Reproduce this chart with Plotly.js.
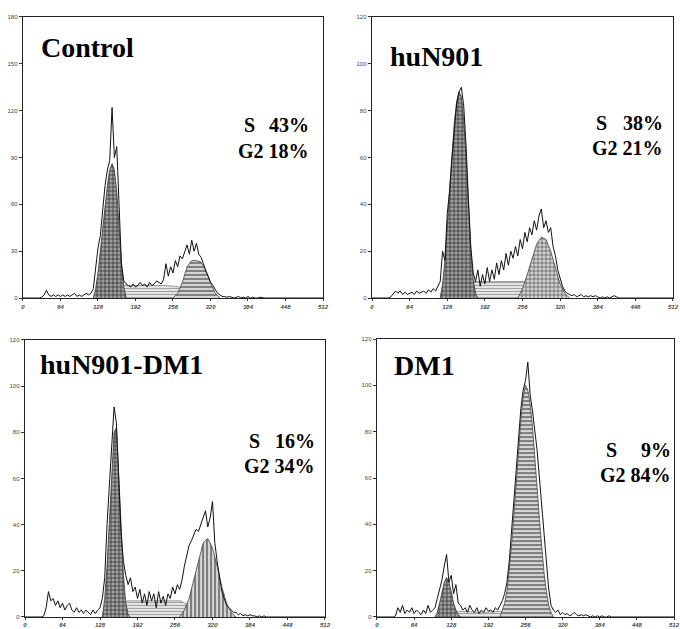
<!DOCTYPE html>
<html>
<head>
<meta charset="utf-8">
<script src="https://cdn.plot.ly/plotly-3.0.1.min.js"></script>
<style>html,body{margin:0;padding:0;background:#fff;}#chart{width:680px;height:629px;}</style>
</head>
<body>
<div id="chart"></div>
<script>
// ---- shared channel axis (DNA content, step 4) ----
const channels = [0,4,8,12,16,20,24,28,32,36,40,44,48,52,56,60,64,68,72,76,80,84,88,92,96,100,104,108,112,116,120,124,128,132,136,140,144,148,152,156,160,164,168,172,176,180,184,188,192,196,200,204,208,212,216,220,224,228,232,236,240,244,248,252,256,260,264,268,272,276,280,284,288,292,296,300,304,308,312,316,320,324,328,332,336,340,344,348,352,356,360,364,368,372,376,380,384,388,392,396,400,404,408,412,416,420,424,428,432,436,440,444,448,452,456,460,464,468,472,476,480,484,488,492,496,500,504,508,512];
const xTicks = [0,64,128,192,256,320,384,448,512];

// ---- panel names and percentages ----
const panelNames = ["Control","huN901","huN901-DM1","DM1"];
const sPhase = ["43%","38%","16%","9%"];
const g2Phase = ["18%","21%","34%","84%"];
const yMax = [180,120,120,120];
const yStep = [30,20,20,20];

// ---- histogram counts ----
const controlHist = [0,0,0,0,0,0,0,0, 0.5,2,5,2,1,2,1,2, 1,2,1,2,1,2,3,1, 2,1,2,3,2,3,6,18,
  32,40,55,72,82,88,122,90, 97,62,22,11,9,8,7,9, 7,8,10,8,9,7,10,8, 9,11,10,9,12,22,14,20,
  16,24,20,27,25,30,34,28, 37,30,35,28,26,22,17,14, 10,8,5,3,2,1,1,0.5, 1,0.5,0,0.5,1,0,0.5,0,
  1,0,0.5,0,0,0.5,0,0, 0,0,0,0,0,0,0,0,0,0,0,0,0,0,0,0,0,0,0,0,0,0,0,0,0];
const huN901Hist = [0,0,0,0,0,0,0,0, 0.5,2,3,2,3,1.5,2.5,1.5, 2,2.5,1.5,3,2,2.5,3,2, 3.5,2.5,4,3,5,7,20,16,
  36,46,60,72,83,88,90,82, 65,42,22,11,7,12,5,10, 6,13,7,12,8,15,10,16, 12,19,14,20,17,22,18,25,
  21,28,24,30,27,33,29,35, 38,30,33,28,30,22,18,12, 8,5,3,2,1.5,1,1.5,0.5, 1,1.5,0.5,1,0.5,1,0.5,1,
  0.5,0,0.5,0,0.5,0,0.5,1, 0.5,0,0,0,0,0,0,0,0,0,0,0,0,0,0,0,0,0,0,0,0,0,0,0,0];
const huN901DM1Hist = [0,0,0,0,0,0,0,0, 0.5,4,11,7,8,5,7,4, 6,3,5,6,3,2,4,2, 3,1.5,3,2,1,3,1.5,3,
  4,8,17,40,58,75,91,84, 58,36,24,18,14,17,11,13, 8,12,6,10,5,11,7,10, 4,11,6,9,5,10,8,13,
  10,14,12,16,22,26,31,33, 36,38,37,40,42,46,39,43, 50,32,24,17,11,8,5,4, 3,2,2,1,1.5,0.5,1,0.5,
  1,0.5,0.5,0,0.5,0,0.5,0, 0,0,0,0,0,0,0,0,0,0,0,0,0,0,0,0,0,0,0,0,0,0,0,0,0];
const dm1Hist = [0,0,0,0,0,0,0,0, 0.5,4,2,5,1.5,3,2,4, 1.5,3,2,1,3,1.5,5,2, 3,4,8,12,16,22,27,15,
  18,10,14,6,5,3,4,2, 5,3,2,4,1.5,3,2,4, 2.5,3,2,4,3,5,7,10, 15,24,38,50,64,78,90,98,
  102,110,96,89,81,72,60,48, 34,22,12,5,3,2,3,1, 2,1,1.5,0.5,1,2,1,0.5, 1,0.5,1,0.5,0,0.5,0,0.5,
  0,0.5,0,0,0.5,0,0,0, 0,0,0,0,0,0,0,0,0,0,0,0,0,0,0,0,0,0,0,0,0,0,0,0,0];
const histograms = [controlHist, huN901Hist, huN901DM1Hist, dm1Hist];

// ---- model components (G1, S, G2) ----
const ctrlG1x = [120,124,128,132,136,140,144,148,152,156,160,164,168,172,176];
const ctrlG1y = [0,6,16,30,45,60,72,82,86,82,68,45,22,7,0];
const ctrlSx = [124,132,144,160,200,240,260,280,300,320,336];
const ctrlSy = [0,3,6,8,8,8,7.5,6,4,2,0];
const ctrlG2x = [256,264,272,280,288,296,304,312,320,328,336];
const ctrlG2y = [0,3,10,20,24,24,23,18,10,3,0];

const hG1x = [116,120,124,128,132,136,140,144,148,152,156,160,164,168,172,176,180];
const hG1y = [0,6,16,30,46,62,75,84,88,86,76,60,40,20,8,2,0];
const hSx = [124,136,150,170,200,240,270,300,320,336];
const hSy = [0,3,6,7,7,7,7,5,2,0];
const hG2x = [248,256,264,272,280,288,296,304,312,320,328,336];
const hG2y = [0,4,10,17,23,26,25,20,13,6,2,0];

const dG1x = [132,136,140,144,148,152,156,160,164,168,172,176,180];
const dG1y = [0,8,22,42,64,80,82,62,38,18,6,1,0];
const dSx = [136,150,165,175,220,265,280,300,320,344];
const dSy = [0,3,6,7,7,7,5,3,1.5,0];
const dG2x = [264,272,280,288,296,304,312,320,328,336,344,352,360];
const dG2y = [0,3,8,16,25,32,34,30,22,13,6,2,0];

const mG1x = [100,104,108,112,116,120,124,128,132,136,140,144];
const mG1y = [0,2,6,11,15,17,15,11,6,3,1,0];
const mSx = [104,124,140,180,220,250,270,290,304];
const mSy = [0,2,2.5,2,2.5,3,3,2,0];
const mG2x = [212,216,220,224,228,232,236,240,244,248,252,256,260,264,268,272,276,280,284,288,292,296,300,304];
const mG2y = [0,3,6,11,20,31,44,58,72,85,95,100,98,92,82,70,56,42,29,19,11,5,2,0];

const models = [
  {g1:[ctrlG1x,ctrlG1y], s:[ctrlSx,ctrlSy], g2:[ctrlG2x,ctrlG2y], g2shape:'-'},
  {g1:[hG1x,hG1y], s:[hSx,hSy], g2:[hG2x,hG2y], g2shape:'+'},
  {g1:[dG1x,dG1y], s:[dSx,dSy], g2:[dG2x,dG2y], g2shape:'|'},
  {g1:[mG1x,mG1y], s:[mSx,mSy], g2:[mG2x,mG2y], g2shape:'-'}
];

// ---- layout geometry (paper fractions) ----
const xDomains = [[0.0338,0.475],[0.5471,0.9897],[0.0368,0.4779],[0.5544,0.9912]];
const yDomains = [[0.5262,0.9730],[0.5262,0.9730],[0.0191,0.4595],[0.0191,0.4610]];
const titlePos = [[0.053,0.893],[0.053,0.861],[0.043,0.913],[0.05,0.903]];
const statPos = [ // [S label x, right edge x, S line y, G2 line y]
  [0.73,0.959,0.616,0.523],
  [0.737,0.975,0.623,0.534],
  [0.74,0.972,0.635,0.545],
  [0.764,0.996,0.601,0.511]
];

const traces = [];
const layout = {
  width:680, height:629,
  margin:{l:0,r:0,t:0,b:0},
  paper_bgcolor:'#fff', plot_bgcolor:'#fff',
  showlegend:false, hovermode:false,
  annotations:[]
};

const serif = 'Liberation Serif, Times New Roman, serif';

for (let i=0;i<4;i++){
  const ax = i===0 ? '' : String(i+1);
  const xa = 'x'+ax, ya = 'y'+ax;
  const m = models[i];
  // S phase
  traces.push({x:m.s[0], y:m.s[1], xaxis:xa, yaxis:ya, type:'scatter', mode:'lines',
    line:{color:'#777', width:0.7}, fill:'tozeroy', fillcolor:'#e0e0e0',
    fillpattern:{shape:'-', fgcolor:'#999', bgcolor:'#e4e4e4', size:3, solidity:0.3}});
  // G2
  traces.push({x:m.g2[0], y:m.g2[1], xaxis:xa, yaxis:ya, type:'scatter', mode:'lines',
    line:{color:'#444', width:0.8}, fill:'tozeroy', fillcolor:'#c8c8c8',
    fillpattern:{shape:m.g2shape, fgcolor:'#5a5a5a', bgcolor:'#d4d4d4', size:4, solidity:0.35}});
  // G1
  traces.push({x:m.g1[0], y:m.g1[1], xaxis:xa, yaxis:ya, type:'scatter', mode:'lines',
    line:{color:'#333', width:0.8}, fill:'tozeroy', fillcolor:'#999',
    fillpattern:{shape:'+', fgcolor:'#333', bgcolor:'#a0a0a0', size:4, solidity:0.35}});
  // histogram
  traces.push({x:channels, y:histograms[i], xaxis:xa, yaxis:ya, type:'scatter', mode:'lines',
    line:{color:'#111', width:1}});

  const yt = [];
  for (let v=0; v<=yMax[i]; v+=yStep[i]) yt.push(v);

  layout['xaxis'+ax] = {domain:xDomains[i], anchor:ya, range:[0,512], tickvals:xTicks,
    ticktext:xTicks.map(String), showgrid:false, zeroline:false, showline:true, mirror:true,
    linecolor:'#222', linewidth:1.3, ticks:'outside', ticklen:2, tickcolor:'#333',
    tickfont:{family:'Liberation Sans, Arial', size:6, color:'#444', style:'italic', weight:'bold'}};
  layout['yaxis'+ax] = {domain:yDomains[i], anchor:xa, range:[0,yMax[i]], tickvals:yt,
    ticktext:yt.map(String), showgrid:false, zeroline:false, showline:true, mirror:true,
    linecolor:'#222', linewidth:1.3, ticks:'outside', ticklen:3, tickcolor:'#333',
    tickfont:{family:'Liberation Sans, Arial', size:6, color:'#444'}};

  const xr = xa+' domain', yr = ya+' domain';
  layout.annotations.push({xref:xr, yref:yr, x:titlePos[i][0], y:titlePos[i][1], xanchor:'left', yanchor:'middle',
    text:'<b>'+panelNames[i]+'</b>', showarrow:false, font:{family:serif, size:28, color:'#000'}});
  const sp = statPos[i];
  layout.annotations.push({xref:xr, yref:yr, x:sp[0], y:sp[2], xanchor:'left', yanchor:'middle',
    text:'<b>S</b>', showarrow:false, font:{family:serif, size:20, color:'#000'}});
  layout.annotations.push({xref:xr, yref:yr, x:sp[1], y:sp[2], xanchor:'right', yanchor:'middle',
    text:'<b>'+sPhase[i]+'</b>', showarrow:false, font:{family:serif, size:20, color:'#000'}});
  layout.annotations.push({xref:xr, yref:yr, x:sp[1], y:sp[3], xanchor:'right', yanchor:'middle',
    text:'<b>G2 '+g2Phase[i]+'</b>', showarrow:false, font:{family:serif, size:20, color:'#000'}});
}

Plotly.newPlot('chart', traces, layout, {staticPlot:true, displayModeBar:false});
</script>
</body>
</html>
